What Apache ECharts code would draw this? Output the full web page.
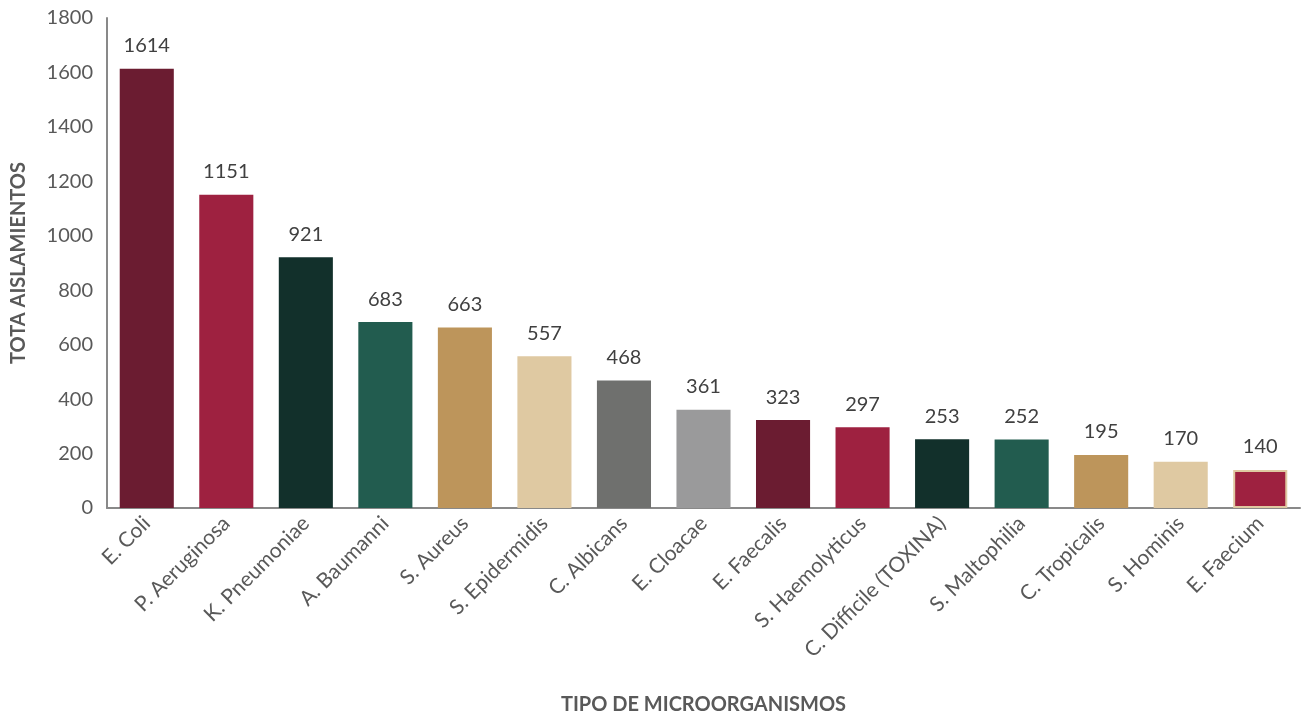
<!DOCTYPE html>
<html>
<head>
<meta charset="utf-8">
<script src="https://cdn.jsdelivr.net/npm/echarts@6/dist/echarts.min.js"></script>
<style>
  html, body { margin: 0; padding: 0; background: #ffffff; }
  #chart { width: 1306px; height: 719px; }
</style>
</head>
<body>
<div id="chart"></div>
<script>
// Microorganism categories and isolate counts
const categories = [
  'E. Coli', 'P. Aeruginosa', 'K. Pneumoniae', 'A. Baumanni', 'S. Aureus',
  'S. Epidermidis', 'C. Albicans', 'E. Cloacae', 'E. Faecalis', 'S. Haemolyticus',
  'C. Difficile (TOXINA)', 'S. Maltophilia', 'C. Tropicalis', 'S. Hominis', 'E. Faecium'
];
const values = [1614, 1151, 921, 683, 663, 557, 468, 361, 323, 297, 253, 252, 195, 170, 140];
const yTicks = [0, 200, 400, 600, 800, 1000, 1200, 1400, 1600, 1800];

// Fill colour of each bar, in category order
const barColors = [
  '#6B1C31', '#9E2140', '#12302B', '#225C4F', '#BD955B', '#DFC9A2', '#6F706E', '#9A9A9B',
  '#6B1C31', '#9E2140', '#12302B', '#225C4F', '#BD955B', '#DFC9A2', '#9E2140'
];

const textColor = '#595959';
const font = 'Lato, "Open Sans", sans-serif';

const barData = values.map((v, i) => {
  const item = { value: v, itemStyle: { color: barColors[i] } };
  if (i === values.length - 1) {
    item.itemStyle.borderColor = '#DFC9A2';
    item.itemStyle.borderWidth = 2;
  }
  return item;
});

const chart = echarts.init(document.getElementById('chart'));
chart.setOption({
  animation: false,
  textStyle: { fontFamily: font },
  grid: { left: 107, right: 6, top: 18, bottom: 211, containLabel: false, outerBoundsMode: 'none' },
  xAxis: {
    type: 'category',
    data: categories,
    name: 'TIPO DE MICROORGANISMOS',
    nameLocation: 'middle',
    nameGap: 187,
    nameTextStyle: { fontFamily: font, fontSize: 20, fontWeight: 'bold', color: textColor },
    axisLine: { lineStyle: { color: '#898989', width: 2 } },
    axisTick: { show: false },
    axisLabel: { rotate: 45, interval: 0, margin: 12, fontSize: 21, color: textColor, fontFamily: font }
  },
  yAxis: {
    type: 'value',
    min: yTicks[0],
    max: yTicks[yTicks.length - 1],
    interval: yTicks[1] - yTicks[0],
    name: 'TOTA AISLAMIENTOS',
    nameLocation: 'middle',
    nameGap: 78,
    nameRotate: 90,
    nameTextStyle: { fontFamily: font, fontSize: 20, fontWeight: 'bold', color: textColor },
    axisLine: { show: true, lineStyle: { color: '#898989', width: 2 } },
    axisTick: { show: false },
    splitLine: { show: false },
    axisLabel: { margin: 14, fontSize: 20, color: textColor, fontFamily: font, formatter: v => String(v) }
  },
  series: [{
    type: 'bar',
    data: barData,
    barCategoryGap: '32%',
    label: {
      show: true,
      position: 'top',
      distance: 13,
      fontSize: 20,
      color: '#404040',
      fontFamily: font
    }
  }]
});
</script>
</body>
</html>
